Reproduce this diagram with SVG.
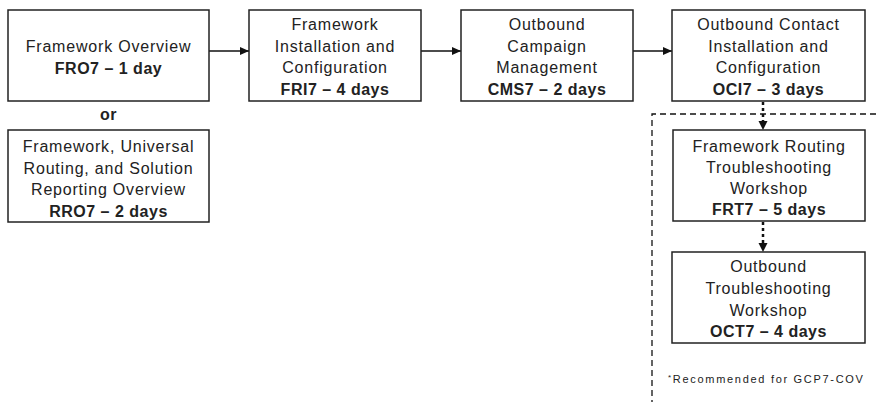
<svg xmlns="http://www.w3.org/2000/svg" width="876" height="402" viewBox="0 0 876 402">
<style>
.box{fill:#fff;stroke:#222;stroke-width:1.5}
.t{font-family:"Liberation Sans",Arial,sans-serif;font-size:16px;fill:#222;text-anchor:middle;letter-spacing:0.8px}
.b{font-weight:bold;letter-spacing:0.5px}
.c{stroke:#111;stroke-width:1.5;fill:none}
.dot{stroke:#111;stroke-width:2.5;fill:none;stroke-dasharray:3 3}
.dash{stroke:#111;stroke-width:1.3;fill:none;stroke-dasharray:6 4}
.note{font-family:"Liberation Sans",Arial,sans-serif;font-size:11px;fill:#222;letter-spacing:1.7px}
</style>
<defs>
<marker id="ah" markerWidth="10" markerHeight="10" refX="9" refY="5" orient="auto" markerUnits="userSpaceOnUse">
<path d="M0,1 L9,5 L0,9 Z" fill="#111"/>
</marker>
</defs>
<rect width="876" height="402" fill="#fff"/>
<g id="connectors">
<line class="c" x1="209" y1="51" x2="249" y2="51" marker-end="url(#ah)"/>
<line class="c" x1="421" y1="51" x2="461" y2="51" marker-end="url(#ah)"/>
<line class="c" x1="633" y1="51" x2="672" y2="51" marker-end="url(#ah)"/>
<line class="dot" x1="763" y1="102" x2="763" y2="121"/>
<path d="M758.5,121 L767.5,121 L763,130 Z" fill="#111"/>
<line class="dot" x1="763" y1="222" x2="763" y2="243"/>
<path d="M758.5,243 L767.5,243 L763,252 Z" fill="#111"/>
<polyline class="dash" points="876,114 652,114 652,402"/>
</g>
<g id="fro7">
<rect class="box" x="8" y="10" width="201" height="91"/>
<text class="t" x="108.5" y="52">Framework Overview</text>
<text class="t b" x="108.5" y="74">FRO7 – 1 day</text>
</g>
<g id="or">
<text class="t b" x="108.5" y="120">or</text>
</g>
<g id="rro7">
<rect class="box" x="8" y="130" width="201" height="92"/>
<text class="t" x="108.5" y="152">Framework, Universal</text>
<text class="t" x="108.5" y="174">Routing, and Solution</text>
<text class="t" x="108.5" y="195">Reporting Overview</text>
<text class="t b" x="108.5" y="217">RRO7 – 2 days</text>
</g>
<g id="fri7">
<rect class="box" x="249" y="10" width="172" height="91"/>
<text class="t" x="335" y="30">Framework</text>
<text class="t" x="335" y="52">Installation and</text>
<text class="t" x="335" y="73">Configuration</text>
<text class="t b" x="335" y="95">FRI7 – 4 days</text>
</g>
<g id="cms7">
<rect class="box" x="461" y="10" width="172" height="91"/>
<text class="t" x="547" y="30">Outbound</text>
<text class="t" x="547" y="52">Campaign</text>
<text class="t" x="547" y="73">Management</text>
<text class="t b" x="547" y="95">CMS7 – 2 days</text>
</g>
<g id="oci7">
<rect class="box" x="672" y="10" width="193" height="91"/>
<text class="t" x="768.5" y="30">Outbound Contact</text>
<text class="t" x="768.5" y="52">Installation and</text>
<text class="t" x="768.5" y="73">Configuration</text>
<text class="t b" x="768.5" y="95">OCI7 – 3 days</text>
</g>
<g id="frt7">
<rect class="box" x="673" y="130" width="192" height="91"/>
<text class="t" x="769" y="152">Framework Routing</text>
<text class="t" x="769" y="173">Troubleshooting</text>
<text class="t" x="769" y="194">Workshop</text>
<text class="t b" x="769" y="215">FRT7 – 5 days</text>
</g>
<g id="oct7">
<rect class="box" x="672" y="252" width="193" height="91"/>
<text class="t" x="768.5" y="272">Outbound</text>
<text class="t" x="768.5" y="294">Troubleshooting</text>
<text class="t" x="768.5" y="316">Workshop</text>
<text class="t b" x="768.5" y="337">OCT7 – 4 days</text>
</g>
<g id="note">
<text class="note" x="668" y="383"><tspan font-size="8px" dy="-3">*</tspan><tspan dy="3">Recommended for GCP7-COV</tspan></text>
</g>
</svg>
